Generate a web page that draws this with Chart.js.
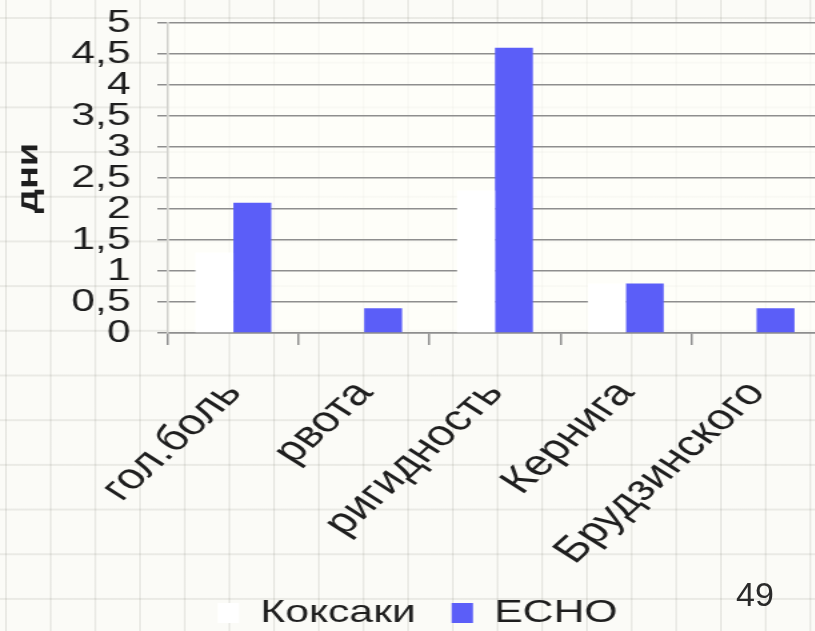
<!DOCTYPE html>
<html>
<head>
<meta charset="utf-8">
<script src="https://cdn.jsdelivr.net/npm/chart.js@4.4.1/dist/chart.umd.min.js"></script>
<style>
  html, body {
    margin: 0;
    padding: 0;
    width: 815px;
    height: 631px;
    overflow: hidden;
    background-color: #fbfbf7;
    background-image:
      linear-gradient(to right, rgba(120,120,110,0.13) 2px, transparent 2px),
      linear-gradient(to bottom, rgba(120,120,110,0.13) 2px, transparent 2px);
    background-size: 44.7px 44.7px;
    background-position: 5px 17px;
  }
  /* the chart is shown widened, so its drawing is stretched horizontally */
  #slide {
    position: absolute;
    left: 0;
    top: 0;
    width: 620px;
    height: 631px;
    transform: scaleX(1.3333);
    transform-origin: 0 0;
  }
  #chart { position: absolute; left: 0; top: 0; }
  #pageNo {
    position: absolute;
    left: 736px;
    top: 577px;
    font-family: "Liberation Sans", Arial, sans-serif;
    font-size: 34px;
    line-height: 34px;
    color: #2a2a2a;
  }
</style>
</head>
<body>
<div id="slide">
  <canvas id="chart" width="620" height="631"></canvas>
</div>
<div id="pageNo">49</div>
<script>
const categories = ['гол.боль', 'рвота', 'ригидность', 'Кернига', 'Брудзинского'];
const coxsackieDays = [1.3, 0, 2.3, 0.8, 0];
const echoDays = [2.1, 0.4, 4.6, 0.8, 0.4];
const yTickLabels = ['0', '0,5', '1', '1,5', '2', '2,5', '3', '3,5', '4', '4,5', '5'];
const seriesNames = ['Коксаки', 'ECHO'];
const axisTitle = 'дни';

const FONT = '"Liberation Sans", Arial, sans-serif';
const GRID = '#8e8e8e';
const STRETCH = 1.3333;

// light cream fill behind the plot
const plotBackground = {
  id: 'plotBackground',
  beforeDraw(chart) {
    const { ctx, chartArea: a } = chart;
    ctx.save();
    ctx.fillStyle = 'rgba(255,255,250,0.72)';
    ctx.fillRect(a.left, a.top, a.right - a.left, a.bottom - a.top);
    ctx.restore();
  }
};

// vertical axis title; its glyphs keep their own proportions on the widened canvas
const valueAxisTitle = {
  id: 'valueAxisTitle',
  afterDraw(chart) {
    const { ctx, chartArea: a } = chart;
    ctx.save();
    ctx.translate(27.5, (a.top + a.bottom) / 2);
    ctx.rotate(-Math.PI / 2);
    ctx.scale(STRETCH, 1 / STRETCH);
    ctx.font = 'bold 28.5px ' + FONT;
    ctx.fillStyle = '#1e1e1e';
    ctx.textAlign = 'center';
    ctx.textBaseline = 'alphabetic';
    ctx.fillText(axisTitle, 0, 0);
    ctx.restore();
  }
};

// move the legend row slightly to the right of the canvas centre
const legendShift = {
  id: 'legendShift',
  afterLayout(chart) {
    chart.legend.left += 5;
    chart.legend.right += 5;
  }
};

new Chart(document.getElementById('chart'), {
  type: 'bar',
  data: {
    labels: categories,
    datasets: [
      {
        label: seriesNames[0],
        data: coxsackieDays,
        backgroundColor: '#ffffff',
        borderWidth: 0
      },
      {
        label: seriesNames[1],
        data: echoDays,
        backgroundColor: '#5b5ef8',
        borderWidth: 0
      }
    ]
  },
  options: {
    responsive: false,
    animation: false,
    events: [],
    layout: { padding: { top: 23, right: 3.5, left: 0, bottom: 0 } },
    datasets: {
      bar: { categoryPercentage: 0.58, barPercentage: 1 }
    },
    scales: {
      x: {
        grid: {
          offset: true,
          drawOnChartArea: false,
          drawTicks: true,
          tickLength: 12,
          color: GRID,
          lineWidth: 1.5
        },
        border: { display: true, color: GRID, width: 1.5 },
        ticks: {
          autoSkip: false,
          minRotation: 50,
          maxRotation: 50,
          padding: 28,
          color: '#1e1e1e',
          font: { family: FONT, size: 36 }
        },
        afterFit(scale) {
          scale.height = 237;
          scale.paddingLeft = 0;
          scale.paddingRight = 0;
        }
      },
      y: {
        min: 0,
        max: 5,
        grid: {
          color: GRID,
          lineWidth: 1.5,
          drawTicks: true,
          tickLength: 8
        },
        border: { display: true, color: '#d0d0cc', width: 1.5 },
        ticks: {
          stepSize: 0.5,
          autoSkip: false,
          padding: 20,
          color: '#1e1e1e',
          font: { family: FONT, size: 32 },
          callback: (value, index) => yTickLabels[index]
        },
        afterFit(scale) {
          scale.width = 126;
          scale.paddingTop = 0;
          scale.paddingBottom = 0;
        }
      }
    },
    plugins: {
      legend: {
        position: 'bottom',
        maxHeight: 61,
        labels: {
          boxWidth: 16,
          boxHeight: 20,
          padding: 27,
          color: '#1e1e1e',
          font: { family: FONT, size: 32 }
        }
      },
      tooltip: { enabled: false }
    }
  },
  plugins: [plotBackground, valueAxisTitle, legendShift]
});
</script>
</body>
</html>
